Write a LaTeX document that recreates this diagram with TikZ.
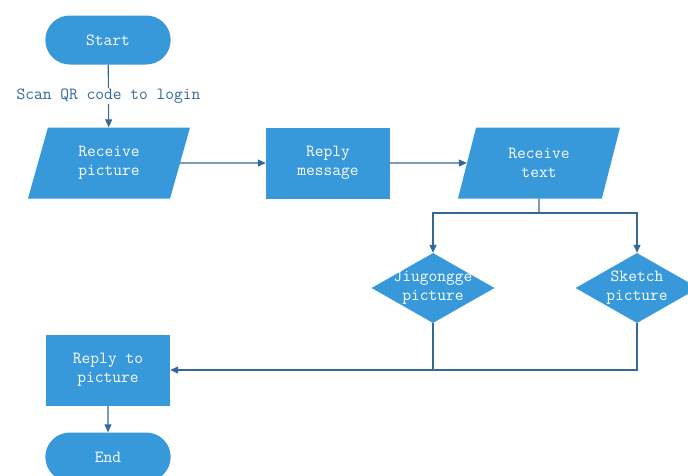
\documentclass[tikz,border=0pt]{standalone}
\usepackage{fontspec}
\usetikzlibrary{shapes.geometric,shapes.misc,arrows.meta,positioning}

\definecolor{boxblue}{RGB}{55,152,218}
\definecolor{lineblue}{RGB}{52,104,150}

\tikzset{
	flowfont/.style = {font=\ttfamily\fontsize{17}{19}\selectfont},
	flowtext/.style = {flowfont, text=white, align=center},
	terminal/.style = {rounded rectangle, fill=boxblue, minimum width=132pt, minimum height=49pt, flowtext},
	process/.style = {rectangle, fill=boxblue, minimum width=124pt, minimum height=71pt, flowtext},
	io/.style = {trapezium, trapezium left angle=63.4, trapezium right angle=116.6, trapezium stretches body,
		fill=boxblue, minimum width=162pt, minimum height=71pt, flowtext},
	decision/.style = {diamond, fill=boxblue, minimum width=123pt, minimum height=70pt, inner sep=0pt},
	flow/.style = {draw=lineblue, line width=1.1pt, -{Triangle[length=8pt,width=7pt]}},
	link/.style = {draw=lineblue, line width=1.1pt}
}

\begin{document}
\begin{tikzpicture}[x = 1pt, y = -1pt]
	\useasboundingbox (0,0) rectangle (688,475);
	\node[terminal] (start) at (108,40) {Start};
	\node[io] (recpic) at (109,163) {Receive\\picture};
	\node[process] (replymsg) at (328,163) {Reply\\message};
	\node[io] (rectext) at (539,163) {Receive\\text};
	\node[decision, label={[flowtext]center:Jiugongge\\picture}] (jiu) at (433,288) {};
	\node[decision, label={[flowtext]center:Sketch\\picture}] (sketch) at (637,288) {};
	\node[process] (replypic) at (108,370) {Reply to\\picture};
	\node[terminal] (end) at (108,457) {End};
	\coordinate (split) at (539,213);
	
	\draw[flow] (start) -- node[fill=white, flowfont, text=lineblue, inner sep=1pt] {Scan QR code to login} (recpic); %login
	\draw[flow] (recpic.east) -- (replymsg.west);
	\draw[flow] (replymsg.east) -- (rectext.west);
	\draw[link] (rectext.south) -- (split);
	\draw[flow] (split) -| (jiu.north);
	\draw[flow] (split) -| (sketch.north);
	\draw[link] (jiu.south) -- (jiu.south |- replypic.east);
	\draw[flow] (sketch.south) |- (replypic.east);
	\draw[flow] (replypic) -- (end);
\end{tikzpicture}
\end{document}
